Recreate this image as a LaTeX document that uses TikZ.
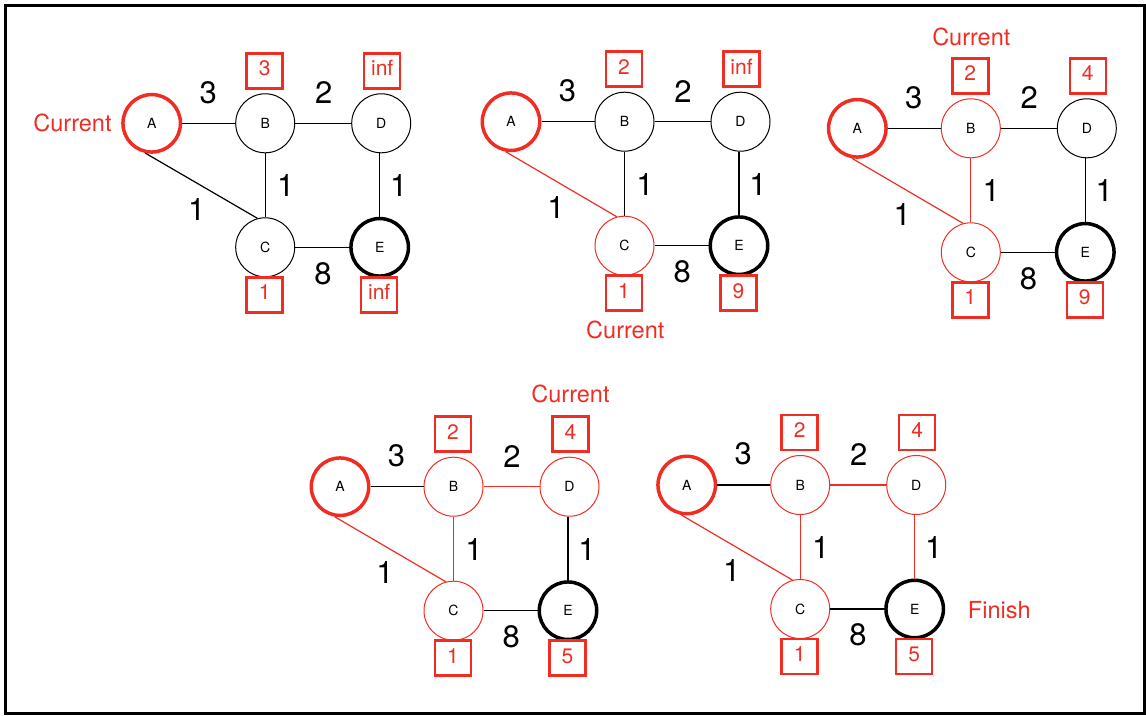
\documentclass[tikz,border=0pt]{standalone}
\usepackage{fontspec}
\setmainfont{TeX Gyre Heros}
\definecolor{myred}{RGB}{240,45,35}
\tikzset{
 vtx/.style={circle, draw=black, minimum size=59pt, inner sep=0pt, line width=1pt, font=\fontsize{14}{14}\selectfont},
 vred/.style={vtx, draw=myred},
 vstart/.style={vtx, draw=myred, line width=3.5pt, minimum size=57.5pt},
 vend/.style={vtx, line width=3.5pt, minimum size=57.5pt},
 wbox/.style={draw=myred, text=myred, line width=2.5pt, minimum width=36pt, minimum height=35pt, inner sep=0pt, text height=1em, text depth=0pt, font=\fontsize{21}{21}\selectfont},
 wt/.style={inner sep=0pt, font=\fontsize{31}{31}\selectfont},
 cur/.style={inner sep=0pt, text=myred, font=\fontsize{23.5}{23.5}\selectfont},
 bedge/.style={line width=1.2pt, draw=black},
 redge/.style={line width=1.2pt, draw=myred},
}
\begin{document}
\begin{tikzpicture}[x=1pt,y=-1pt]
\useasboundingbox (0,0) rectangle (1146,715);
\draw[line width=3pt] (5.5,5) rectangle (1144.3,713.5);

% ---------- Graph 1 ----------
\begin{scope}[shift={(151.7,123.3)}]
\node[vstart] (aA) at (0,0) {A};
\node[vtx] (aB) at (113.5,0) {B};
\node[vtx] (aD) at (229.5,0) {D};
\node[vtx] (aC) at (113.5,124) {C};
\node[vend] (aE) at (228,124) {E};
\node[wbox] (abB) at (113,-52.5) {3};
\node[wbox] (abD) at (230.5,-52.5) {inf};
\node[wbox] (abC) at (113,171.5) {1};
\node[wbox] (abE) at (227.5,171.5) {inf};
\draw[bedge] (aA) -- (aB);
\draw[bedge] (aB) -- (aD);
\draw[bedge] (aB) -- (aC);
\draw[bedge] (aE.north |- aD.south) -- (aE.north);
\draw[bedge] (aC) -- (aE);
\draw[bedge] (aA.-102) -- (aC.105);
\node[wt] (aw1) at (56.5,-31) {3};
\node[wt] (aw2) at (172,-30.5) {2};
\node[wt] (aw3) at (134,62.5) {1};
\node[wt] (aw4) at (247,62.5) {1};
\node[wt] (aw5) at (45,86) {1};
\node[wt] (aw6) at (171.3,150) {8};
\end{scope}
\node[cur] (aCur) at (72.5,123) {Current};

% ---------- Graph 2 ----------
\begin{scope}[shift={(511,121.7)}]
\node[vstart] (bA) at (0,0) {A};
\node[vtx] (bB) at (113.5,0) {B};
\node[vtx] (bD) at (229.5,0) {D};
\node[vred] (bC) at (113.5,124) {C};
\node[vend] (bE) at (228,124) {E};
\node[wbox] (bbB) at (113,-52.5) {2};
\node[wbox] (bbD) at (230.5,-52.5) {inf};
\node[wbox] (bbC) at (113,171.5) {1};
\node[wbox] (bbE) at (227.5,171.5) {9};
\draw[bedge] (bA) -- (bB);
\draw[bedge] (bB) -- (bD);
\draw[bedge] (bB) -- (bC);
\draw[bedge] (bE.north |- bD.south) -- (bE.north);
\draw[bedge] (bC) -- (bE);
\draw[redge] (bA.-100) -- (bC.105);
\node[wt] (bw1) at (56.5,-31) {3};
\node[wt] (bw2) at (172,-30.5) {2};
\node[wt] (bw3) at (134,62.5) {1};
\node[wt] (bw4) at (247,62.5) {1};
\node[wt] (bw5) at (45,86) {1};
\node[wt] (bw6) at (171.3,150) {8};
\end{scope}
\node[cur] (bCur) at (625.3,330) {Current};

% ---------- Graph 3 ----------
\begin{scope}[shift={(857.3,128.3)}]
\node[vstart] (cA) at (0,0) {A};
\node[vred] (cB) at (113.5,0) {B};
\node[vtx] (cD) at (229.5,0) {D};
\node[vred] (cC) at (113.5,124) {C};
\node[vend] (cE) at (228,124) {E};
\node[wbox] (cbB) at (113,-52.5) {2};
\node[wbox] (cbD) at (230.5,-52.5) {4};
\node[wbox] (cbC) at (113,171.5) {1};
\node[wbox] (cbE) at (227.5,171.5) {9};
\draw[bedge] (cA) -- (cB);
\draw[bedge] (cB) -- (cD);
\draw[redge] (cB) -- (cC);
\draw[bedge] (cE.north |- cD.south) -- (cE.north);
\draw[bedge] (cC) -- (cE);
\draw[redge] (cA.-100) -- (cC.105);
\node[wt] (cw1) at (56.5,-31) {3};
\node[wt] (cw2) at (172,-30.5) {2};
\node[wt] (cw3) at (134,62.5) {1};
\node[wt] (cw4) at (247,62.5) {1};
\node[wt] (cw5) at (45,86) {1};
\node[wt] (cw6) at (171.3,150) {8};
\end{scope}
\node[cur] (cCur) at (971.3,37.2) {Current};

% ---------- Graph 4 ----------
\begin{scope}[shift={(340,486.7)}]
\node[vstart] (dA) at (0,0) {A};
\node[vred] (dB) at (113.5,0) {B};
\node[vred] (dD) at (229.5,0) {D};
\node[vred] (dC) at (113.5,124) {C};
\node[vend] (dE) at (228,124) {E};
\node[wbox] (dbB) at (113,-52.5) {2};
\node[wbox] (dbD) at (230.5,-52.5) {4};
\node[wbox] (dbC) at (113,171.5) {1};
\node[wbox] (dbE) at (227.5,171.5) {5};
\draw[bedge] (dA) -- (dB);
\draw[redge] (dB) -- (dD);
\draw[redge] (dB) -- (dC);
\draw[bedge] (dE.north |- dD.south) -- (dE.north);
\draw[bedge] (dC) -- (dE);
\draw[redge] (dA.-100) -- (dC.105);
\node[wt] (dw1) at (56.5,-31) {3};
\node[wt] (dw2) at (172,-30.5) {2};
\node[wt] (dw3) at (134,62.5) {1};
\node[wt] (dw4) at (247,62.5) {1};
\node[wt] (dw5) at (45,86) {1};
\node[wt] (dw6) at (171.3,150) {8};
\end{scope}
\node[cur] (dCur) at (570.5,394.2) {Current};

% ---------- Graph 5 ----------
\begin{scope}[shift={(686.7,485)}]
\node[vstart] (eA) at (0,0) {A};
\node[vred] (eB) at (113.5,0) {B};
\node[vred] (eD) at (229.5,0) {D};
\node[vred] (eC) at (113.5,124) {C};
\node[vend] (eE) at (228,124) {E};
\node[wbox] (ebB) at (113,-52.5) {2};
\node[wbox] (ebD) at (230.5,-52.5) {4};
\node[wbox] (ebC) at (113,171.5) {1};
\node[wbox] (ebE) at (227.5,171.5) {5};
\draw[bedge] (eA) -- (eB);
\draw[redge] (eB) -- (eD);
\draw[redge] (eB) -- (eC);
\draw[redge] (eE.north |- eD.south) -- (eE.north);
\draw[bedge] (eC) -- (eE);
\draw[redge] (eA.-100) -- (eC.105);
\node[wt] (ew1) at (56.5,-31) {3};
\node[wt] (ew2) at (172,-30.5) {2};
\node[wt] (ew3) at (134,62.5) {1};
\node[wt] (ew4) at (247,62.5) {1};
\node[wt] (ew5) at (45,86) {1};
\node[wt] (ew6) at (171.3,150) {8};
\end{scope}
\node[cur] (eFin) at (999.3,610) {Finish};
\end{tikzpicture}
\end{document}
